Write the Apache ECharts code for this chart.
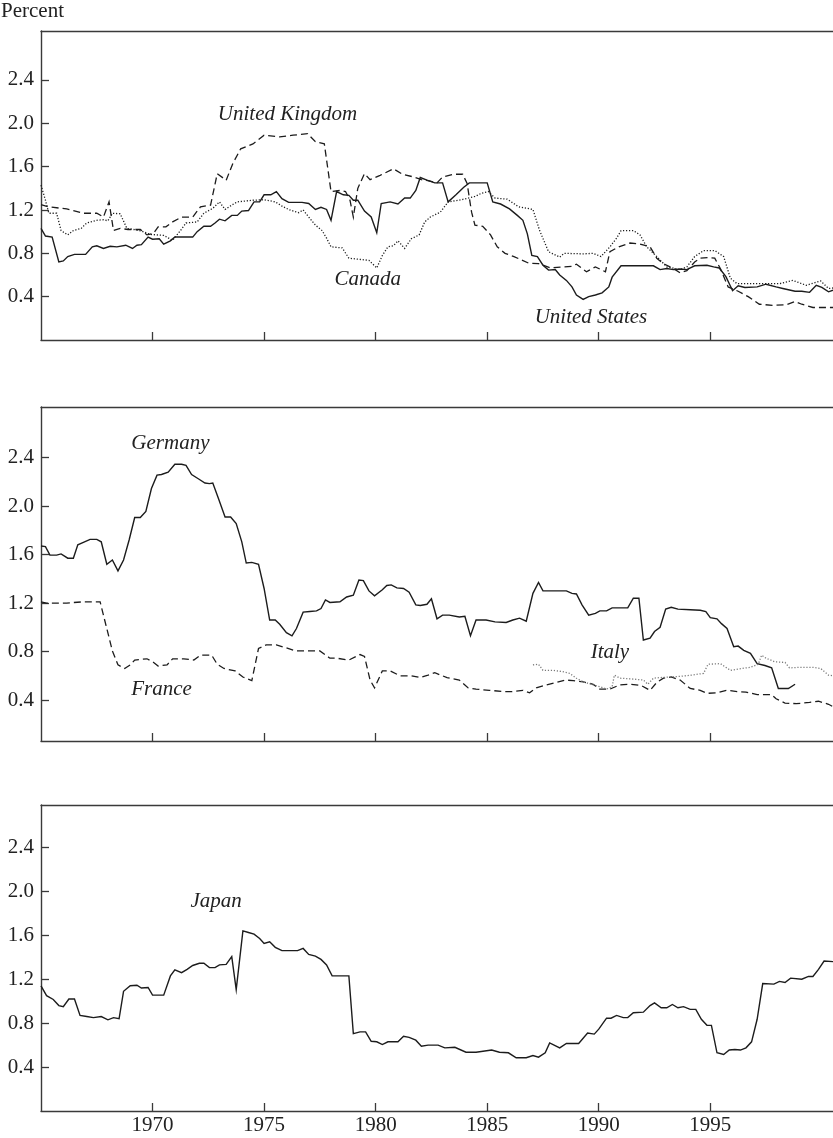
<!DOCTYPE html>
<html>
<head>
<meta charset="utf-8">
<style>
html,body{margin:0;padding:0;background:#fff;}
#chart{width:833px;height:1138px;}
</style>
<script src="https://cdn.jsdelivr.net/npm/echarts@6/dist/echarts.min.js"></script>
</head>
<body>
<div id="chart"></div>
<script>
// ---- tick labels ----
const xTickYears = [1970, 1975, 1980, 1985, 1990, 1995];
const yTickValues = [0.4, 0.8, 1.2, 1.6, 2.0, 2.4];

// ---- panel 1 ----
const unitedStates = [[1965.0,1.03],[1965.2,0.96],[1965.5,0.95],[1965.8,0.72],[1966.0,0.73],[1966.2,0.77],[1966.5,0.79],[1967.0,0.79],[1967.3,0.86],[1967.5,0.87],[1967.8,0.845],[1968.1,0.865],[1968.4,0.86],[1968.8,0.875],[1969.1,0.845],[1969.3,0.875],[1969.5,0.88],[1969.8,0.95],[1970.0,0.93],[1970.3,0.935],[1970.5,0.885],[1970.8,0.915],[1971.0,0.95],[1971.8,0.95],[1972.0,1.0],[1972.3,1.05],[1972.6,1.05],[1972.8,1.08],[1973.0,1.115],[1973.25,1.10],[1973.55,1.15],[1973.8,1.15],[1974.0,1.19],[1974.3,1.195],[1974.55,1.275],[1974.8,1.275],[1975.0,1.34],[1975.3,1.34],[1975.55,1.37],[1975.8,1.305],[1976.1,1.27],[1976.7,1.27],[1977.0,1.26],[1977.3,1.205],[1977.55,1.225],[1977.8,1.205],[1978.0,1.105],[1978.25,1.37],[1978.55,1.34],[1978.8,1.335],[1979.0,1.29],[1979.2,1.29],[1979.5,1.19],[1979.8,1.135],[1980.05,0.99],[1980.25,1.26],[1980.65,1.275],[1981.0,1.255],[1981.3,1.31],[1981.55,1.31],[1981.8,1.38],[1982.0,1.5],[1982.3,1.475],[1982.65,1.45],[1983.0,1.45],[1983.25,1.275],[1983.6,1.34],[1983.95,1.41],[1984.2,1.45],[1985.0,1.45],[1985.25,1.275],[1985.6,1.255],[1986.0,1.21],[1986.35,1.15],[1986.6,1.105],[1986.8,0.98],[1987.0,0.78],[1987.25,0.77],[1987.5,0.69],[1987.75,0.645],[1988.05,0.65],[1988.25,0.6],[1988.55,0.55],[1988.8,0.49],[1989.0,0.415],[1989.3,0.375],[1989.55,0.40],[1989.85,0.415],[1990.15,0.435],[1990.45,0.49],[1990.6,0.58],[1991.0,0.685],[1992.45,0.685],[1992.75,0.65],[1993.05,0.66],[1993.35,0.65],[1993.65,0.655],[1993.95,0.65],[1994.3,0.685],[1994.85,0.69],[1995.15,0.675],[1995.4,0.665],[1995.7,0.585],[1996.0,0.455],[1996.25,0.50],[1996.55,0.485],[1997.1,0.49],[1997.5,0.515],[1997.95,0.49],[1998.25,0.475],[1998.8,0.45],[1999.1,0.45],[1999.45,0.44],[1999.75,0.505],[2000.0,0.485],[2000.3,0.445],[2000.5,0.46]];

const unitedKingdom = [[1965.0,1.25],[1965.3,1.23],[1966.15,1.21],[1966.9,1.17],[1967.5,1.17],[1967.8,1.135],[1968.05,1.275],[1968.25,1.01],[1968.55,1.03],[1968.9,1.02],[1969.45,1.02],[1969.75,0.97],[1970.05,0.985],[1970.25,1.045],[1970.6,1.045],[1970.9,1.09],[1971.3,1.135],[1971.8,1.135],[1972.15,1.23],[1972.6,1.245],[1972.9,1.535],[1973.3,1.475],[1973.6,1.63],[1973.95,1.765],[1974.5,1.81],[1975.0,1.89],[1975.7,1.875],[1976.3,1.89],[1976.95,1.905],[1977.3,1.83],[1977.7,1.81],[1978.0,1.37],[1978.4,1.38],[1978.65,1.37],[1978.85,1.29],[1979.0,1.135],[1979.2,1.40],[1979.5,1.535],[1979.75,1.48],[1980.2,1.52],[1980.8,1.58],[1981.2,1.53],[1981.7,1.505],[1982.05,1.48],[1982.35,1.47],[1982.75,1.45],[1983.0,1.505],[1983.5,1.53],[1983.9,1.53],[1984.1,1.445],[1984.3,1.18],[1984.45,1.06],[1984.8,1.05],[1985.15,0.97],[1985.45,0.86],[1985.8,0.80],[1986.2,0.77],[1986.85,0.71],[1987.3,0.705],[1987.85,0.665],[1988.4,0.675],[1988.8,0.68],[1989.0,0.70],[1989.45,0.63],[1989.85,0.675],[1990.3,0.63],[1990.5,0.815],[1990.9,0.86],[1991.4,0.895],[1991.85,0.885],[1992.3,0.86],[1992.6,0.755],[1992.9,0.705],[1993.35,0.66],[1993.65,0.62],[1993.95,0.64],[1994.3,0.72],[1994.55,0.755],[1994.9,0.76],[1995.2,0.755],[1995.45,0.66],[1995.8,0.49],[1996.25,0.45],[1996.7,0.40],[1997.2,0.33],[1997.8,0.32],[1998.4,0.325],[1998.8,0.355],[1999.1,0.33],[1999.6,0.30],[2000.5,0.30]];

const canada = [[1965.0,1.43],[1965.2,1.29],[1965.35,1.17],[1965.7,1.17],[1965.9,1.01],[1966.2,0.97],[1966.45,1.01],[1966.8,1.03],[1967.05,1.08],[1967.5,1.105],[1967.8,1.11],[1968.0,1.10],[1968.2,1.17],[1968.55,1.165],[1968.85,1.03],[1969.15,1.02],[1969.5,1.005],[1969.9,0.975],[1970.2,0.97],[1970.5,0.965],[1970.9,0.92],[1971.25,1.01],[1971.5,1.08],[1972.0,1.09],[1972.3,1.17],[1972.7,1.215],[1973.0,1.275],[1973.25,1.205],[1973.55,1.245],[1973.8,1.275],[1974.5,1.29],[1975.0,1.295],[1975.5,1.275],[1975.85,1.23],[1976.15,1.20],[1976.55,1.175],[1976.75,1.20],[1977.0,1.135],[1977.3,1.06],[1977.6,1.01],[1977.8,0.94],[1978.0,0.86],[1978.5,0.85],[1978.8,0.755],[1979.7,0.735],[1980.05,0.665],[1980.3,0.78],[1980.55,0.86],[1980.8,0.87],[1981.0,0.915],[1981.3,0.845],[1981.6,0.935],[1981.95,0.97],[1982.2,1.09],[1982.45,1.135],[1982.9,1.18],[1983.25,1.275],[1983.85,1.295],[1984.45,1.325],[1984.75,1.355],[1985.05,1.37],[1985.35,1.31],[1985.9,1.30],[1986.4,1.23],[1987.05,1.205],[1987.35,1.01],[1987.75,0.815],[1988.25,0.765],[1988.45,0.80],[1989.3,0.795],[1989.75,0.80],[1990.1,0.77],[1990.5,0.86],[1990.8,0.94],[1991.0,1.01],[1991.55,1.01],[1991.85,0.97],[1992.15,0.86],[1992.6,0.77],[1993.05,0.675],[1993.65,0.65],[1993.95,0.675],[1994.3,0.77],[1994.7,0.825],[1995.2,0.825],[1995.6,0.77],[1995.9,0.57],[1996.2,0.52],[1998.1,0.52],[1998.7,0.55],[1999.3,0.505],[1999.95,0.545],[2000.3,0.475],[2000.5,0.48]];

// ---- panel 2 ----
const germany = [[1965.0,1.67],[1965.2,1.665],[1965.4,1.595],[1965.7,1.595],[1965.9,1.605],[1966.2,1.57],[1966.45,1.57],[1966.65,1.68],[1966.9,1.70],[1967.2,1.725],[1967.5,1.725],[1967.7,1.705],[1967.95,1.52],[1968.2,1.555],[1968.45,1.465],[1968.7,1.555],[1968.95,1.72],[1969.2,1.905],[1969.45,1.905],[1969.7,1.955],[1969.95,2.145],[1970.2,2.255],[1970.4,2.26],[1970.7,2.28],[1971.0,2.345],[1971.3,2.345],[1971.5,2.335],[1971.75,2.26],[1972.05,2.225],[1972.35,2.19],[1972.55,2.185],[1972.7,2.19],[1972.95,2.065],[1973.25,1.91],[1973.5,1.91],[1973.75,1.855],[1974.0,1.705],[1974.2,1.53],[1974.45,1.535],[1974.75,1.52],[1975.0,1.32],[1975.25,1.06],[1975.5,1.06],[1975.7,1.025],[1976.0,0.955],[1976.25,0.93],[1976.45,0.99],[1976.75,1.125],[1977.05,1.13],[1977.35,1.135],[1977.55,1.155],[1977.75,1.225],[1977.95,1.205],[1978.4,1.21],[1978.7,1.25],[1979.0,1.265],[1979.25,1.39],[1979.45,1.385],[1979.7,1.30],[1979.95,1.26],[1980.3,1.31],[1980.5,1.345],[1980.7,1.35],[1980.95,1.325],[1981.25,1.32],[1981.5,1.29],[1981.8,1.185],[1982.0,1.18],[1982.3,1.19],[1982.5,1.235],[1982.75,1.07],[1983.0,1.10],[1983.3,1.10],[1983.75,1.085],[1984.0,1.09],[1984.25,0.93],[1984.5,1.06],[1984.95,1.06],[1985.35,1.045],[1985.85,1.04],[1986.15,1.06],[1986.45,1.075],[1986.75,1.05],[1987.05,1.28],[1987.3,1.37],[1987.5,1.30],[1987.95,1.30],[1988.55,1.30],[1988.8,1.28],[1989.0,1.275],[1989.25,1.185],[1989.55,1.10],[1989.85,1.115],[1990.05,1.135],[1990.35,1.135],[1990.6,1.16],[1991.3,1.16],[1991.55,1.24],[1991.8,1.24],[1992.0,0.895],[1992.3,0.91],[1992.5,0.965],[1992.75,1.0],[1993.0,1.15],[1993.25,1.165],[1993.55,1.15],[1994.1,1.145],[1994.55,1.14],[1994.8,1.13],[1995.0,1.08],[1995.3,1.07],[1995.5,1.03],[1995.75,0.99],[1996.05,0.84],[1996.25,0.845],[1996.5,0.81],[1996.8,0.785],[1997.1,0.70],[1997.45,0.685],[1997.75,0.665],[1998.05,0.495],[1998.5,0.495],[1998.8,0.53]];

const france = [[1965.0,1.21],[1965.25,1.20],[1966.15,1.20],[1966.9,1.21],[1967.65,1.21],[1968.2,0.805],[1968.45,0.69],[1968.75,0.66],[1969.0,0.69],[1969.2,0.73],[1969.75,0.74],[1970.05,0.71],[1970.25,0.68],[1970.65,0.69],[1970.9,0.74],[1971.4,0.74],[1971.85,0.73],[1972.15,0.77],[1972.65,0.77],[1972.9,0.695],[1973.2,0.66],[1973.7,0.64],[1974.05,0.59],[1974.45,0.56],[1974.75,0.825],[1975.1,0.855],[1975.55,0.855],[1976.0,0.83],[1976.4,0.805],[1977.5,0.805],[1977.95,0.745],[1978.25,0.745],[1978.8,0.73],[1979.3,0.775],[1979.5,0.76],[1979.75,0.565],[1979.95,0.50],[1980.3,0.64],[1980.65,0.64],[1981.1,0.60],[1981.6,0.60],[1982.0,0.585],[1982.35,0.605],[1982.65,0.625],[1983.2,0.585],[1983.75,0.565],[1984.15,0.50],[1984.5,0.49],[1985.1,0.48],[1985.7,0.47],[1986.15,0.47],[1986.6,0.48],[1986.9,0.46],[1987.2,0.50],[1987.65,0.525],[1988.1,0.545],[1988.5,0.565],[1988.85,0.56],[1989.3,0.55],[1989.75,0.53],[1990.05,0.49],[1990.5,0.49],[1990.95,0.525],[1991.4,0.53],[1991.9,0.52],[1992.3,0.48],[1992.6,0.545],[1992.9,0.58],[1993.25,0.59],[1993.65,0.565],[1994.1,0.495],[1994.55,0.48],[1994.85,0.455],[1995.3,0.46],[1995.75,0.48],[1996.2,0.47],[1996.6,0.465],[1997.1,0.445],[1997.75,0.445],[1997.95,0.41],[1998.35,0.375],[1998.85,0.37],[1999.45,0.38],[1999.85,0.39],[2000.3,0.365],[2000.5,0.345]];

const italy = [[1987.05,0.69],[1987.3,0.695],[1987.5,0.645],[1987.95,0.645],[1988.35,0.635],[1988.7,0.62],[1989.0,0.58],[1989.3,0.55],[1989.75,0.525],[1990.05,0.51],[1990.35,0.49],[1990.6,0.51],[1990.7,0.605],[1990.95,0.58],[1991.4,0.575],[1992.0,0.565],[1992.2,0.53],[1992.45,0.58],[1992.75,0.585],[1993.2,0.59],[1993.65,0.595],[1994.15,0.605],[1994.7,0.62],[1994.9,0.695],[1995.45,0.70],[1995.9,0.645],[1996.4,0.66],[1996.8,0.67],[1997.15,0.695],[1997.3,0.77],[1997.5,0.745],[1997.9,0.715],[1998.35,0.71],[1998.55,0.665],[1999.0,0.67],[1999.6,0.67],[1999.95,0.66],[2000.3,0.605],[2000.5,0.60]];

// ---- panel 3 ----
const japan = [[1965.0,1.14],[1965.25,1.05],[1965.55,1.015],[1965.8,0.96],[1966.0,0.95],[1966.25,1.02],[1966.5,1.02],[1966.75,0.87],[1967.05,0.86],[1967.35,0.85],[1967.7,0.86],[1968.0,0.83],[1968.25,0.85],[1968.5,0.84],[1968.7,1.09],[1969.0,1.14],[1969.3,1.145],[1969.5,1.12],[1969.8,1.125],[1970.0,1.055],[1970.5,1.055],[1970.8,1.23],[1971.0,1.285],[1971.3,1.26],[1971.55,1.29],[1971.8,1.325],[1972.1,1.345],[1972.3,1.345],[1972.55,1.305],[1972.8,1.305],[1973.0,1.33],[1973.3,1.335],[1973.55,1.405],[1973.75,1.105],[1974.05,1.64],[1974.3,1.625],[1974.55,1.61],[1974.8,1.57],[1975.0,1.525],[1975.25,1.54],[1975.5,1.49],[1975.8,1.46],[1976.5,1.46],[1976.75,1.48],[1977.0,1.425],[1977.3,1.41],[1977.55,1.38],[1977.8,1.33],[1978.05,1.23],[1978.8,1.23],[1979.0,0.705],[1979.3,0.72],[1979.55,0.72],[1979.8,0.635],[1980.05,0.63],[1980.3,0.605],[1980.55,0.63],[1981.0,0.63],[1981.25,0.68],[1981.5,0.67],[1981.8,0.645],[1982.05,0.59],[1982.35,0.60],[1982.8,0.60],[1983.1,0.575],[1983.55,0.58],[1984.05,0.535],[1984.5,0.535],[1985.2,0.555],[1985.55,0.535],[1985.95,0.53],[1986.3,0.485],[1986.75,0.485],[1987.05,0.505],[1987.3,0.49],[1987.6,0.53],[1987.8,0.62],[1988.25,0.575],[1988.55,0.615],[1989.1,0.615],[1989.5,0.71],[1989.8,0.70],[1990.0,0.745],[1990.35,0.845],[1990.55,0.845],[1990.8,0.87],[1991.1,0.85],[1991.3,0.85],[1991.55,0.895],[1992.0,0.90],[1992.3,0.96],[1992.5,0.985],[1992.8,0.94],[1993.05,0.94],[1993.3,0.97],[1993.55,0.94],[1993.8,0.95],[1994.1,0.925],[1994.35,0.925],[1994.6,0.835],[1994.85,0.78],[1995.05,0.78],[1995.3,0.53],[1995.6,0.515],[1995.85,0.555],[1996.1,0.56],[1996.35,0.555],[1996.6,0.575],[1996.85,0.63],[1997.1,0.835],[1997.35,1.16],[1997.85,1.155],[1998.1,1.18],[1998.35,1.17],[1998.6,1.21],[1999.1,1.20],[1999.4,1.225],[1999.6,1.225],[1999.85,1.29],[2000.1,1.365],[2000.5,1.36]];

// ---- series names and label anchors (data coordinates) ----
const seriesNames = ['United States','United Kingdom','Canada','Germany','France','Italy','Japan'];
const labelAnchors = {
  'United Kingdom': [1976.05, 2.08],
  'Canada': [1979.65, 0.56],
  'United States': [1989.65, 0.21],
  'Germany': [1970.8, 2.52],
  'France': [1970.4, 0.49],
  'Italy': [1990.5, 0.79],
  'Japan': [1972.85, 1.91]
};

// ---- styling / layout ----
const FONT = '"Liberation Serif", "Times New Roman", serif';
const INK = '#222';
const AXIS = '#3a3a3a';
const X_MIN = 1965, X_MAX = 2000.5;
const grids = [
  {left: 41, top: 31, width: 792, height: 309, yMin: 0, yMax: 2.852},
  {left: 41, top: 407, width: 792, height: 334, yMin: 0.062, yMax: 2.817},
  {left: 41, top: 805, width: 792, height: 306, yMin: 0, yMax: 2.786}
];

const chart = echarts.init(document.getElementById('chart'), null, {renderer: 'canvas'});

const xAxes = [], yAxes = [];
grids.forEach((g, i) => {
  xAxes.push({
    type: 'value', gridIndex: i, min: X_MIN, max: X_MAX, position: 'bottom',
    axisLine: {show: true, onZero: false, lineStyle: {color: AXIS, width: 1.4}},
    axisTick: {show: true, inside: true, length: 8, customValues: xTickYears, lineStyle: {color: AXIS, width: 1.3}},
    axisLabel: {show: i === 2, customValues: xTickYears, margin: 4, color: INK, fontFamily: FONT, fontSize: 21, formatter: v => String(v)},
    splitLine: {show: false}
  });
  xAxes.push({
    type: 'value', gridIndex: i, min: X_MIN, max: X_MAX, position: 'top',
    axisLine: {show: true, onZero: false, lineStyle: {color: AXIS, width: 1.4}},
    axisTick: {show: false}, axisLabel: {show: false}, splitLine: {show: false}
  });
  yAxes.push({
    type: 'value', gridIndex: i, min: g.yMin, max: g.yMax, position: 'left',
    axisLine: {show: true, onZero: false, lineStyle: {color: AXIS, width: 1.4}},
    axisTick: {show: true, inside: true, length: 8, customValues: yTickValues, lineStyle: {color: AXIS, width: 1.3}},
    axisLabel: {show: true, customValues: yTickValues, margin: 7, color: INK, fontFamily: FONT, fontSize: 21, formatter: v => v.toFixed(1)},
    splitLine: {show: false}
  });
});

function labelFor(name) {
  return {
    symbol: 'circle', symbolSize: 1, silent: true,
    itemStyle: {color: 'rgba(0,0,0,0)'},
    label: {show: true, position: 'inside', formatter: name, color: INK, fontFamily: FONT, fontSize: 21, fontStyle: 'italic'},
    data: [{coord: labelAnchors[name]}]
  };
}

function lineSeries(name, data, panel, lineType, color, width) {
  return {
    name: name, type: 'line', data: data,
    xAxisIndex: panel * 2, yAxisIndex: panel,
    showSymbol: false, symbol: 'none', smooth: false, clip: true,
    lineStyle: {color: color, width: width, type: lineType, cap: 'butt', join: 'miter'},
    markPoint: labelFor(name),
    z: 3
  };
}

const series = [
  lineSeries('United States', unitedStates, 0, 'solid', '#1c1c1c', 1.4),
  lineSeries('United Kingdom', unitedKingdom, 0, [7, 4], '#1c1c1c', 1.3),
  lineSeries('Canada', canada, 0, [1.2, 1.8], '#1c1c1c', 1.3),
  lineSeries('Germany', germany, 1, 'solid', '#1c1c1c', 1.4),
  lineSeries('France', france, 1, [7, 4], '#1c1c1c', 1.3),
  lineSeries('Italy', italy, 1, [1.2, 1.8], '#7a7a7a', 1.3),
  lineSeries('Japan', japan, 2, 'solid', '#1c1c1c', 1.4)
];

chart.setOption({
  animation: false,
  backgroundColor: '#fff',
  title: {text: 'Percent', left: 1, top: 1, padding: 0,
    textStyle: {fontFamily: FONT, fontSize: 21, fontWeight: 'normal', color: INK}},
  grid: grids.map(g => ({left: g.left, top: g.top, width: g.width, height: g.height, containLabel: false, outerBoundsMode: 'none'})),
  xAxis: xAxes,
  yAxis: yAxes,
  series: series
});
</script>
</body>
</html>
